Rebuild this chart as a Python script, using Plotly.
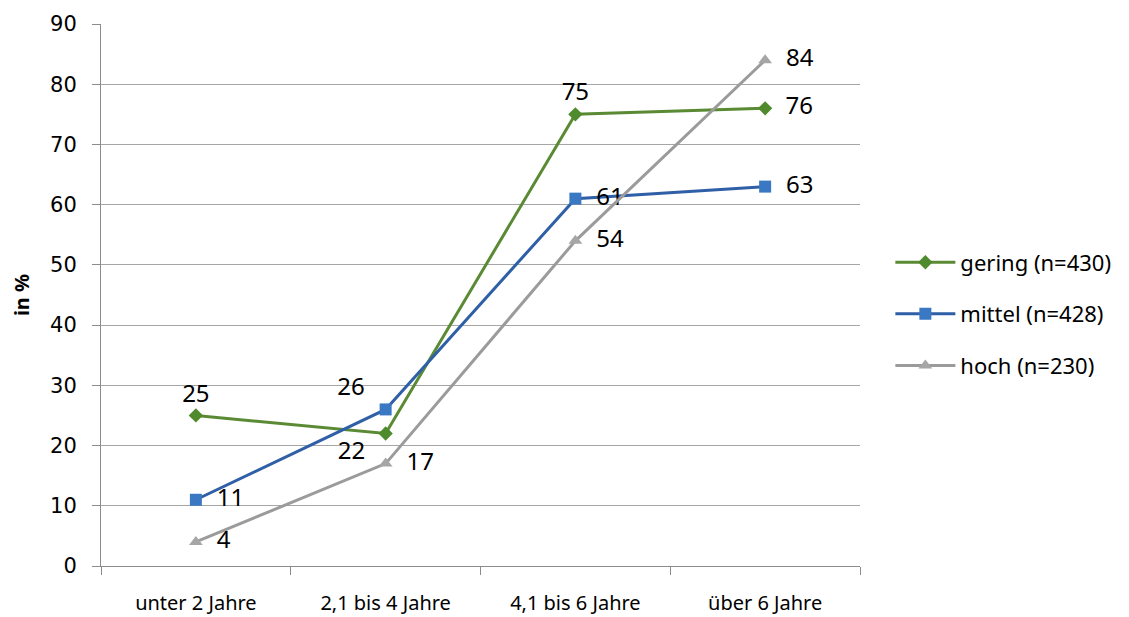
import plotly.graph_objects as go

categories = ["unter 2 Jahre", "2,1 bis 4 Jahre", "4,1 bis 6 Jahre", "über 6 Jahre"]
gering = [25, 22, 75, 76]
mittel = [11, 26, 61, 63]
hoch = [4, 17, 54, 84]
series_names = ["gering (n=430)", "mittel (n=428)", "hoch (n=230)"]
y_ticks = [0, 10, 20, 30, 40, 50, 60, 70, 80, 90]

FONT = "Noto Sans"

fig = go.Figure()

specs = [
    (gering, series_names[0], "#5a8a34", "#4f8a2c", "diamond", 11,
     ["top center", "bottom left", "top center", "middle right"]),
    (mittel, series_names[1], "#2f5fa6", "#3a78c4", "square", 12,
     ["middle right", "top left", "middle right", "middle right"]),
    (hoch, series_names[2], "#9b9b9b", "#a6a6a6", "triangle-up", 12,
     ["middle right", "middle right", "middle right", "middle right"]),
]

for i, (vals, name, lc, mc, sym, ms, pos) in enumerate(specs):
    fig.add_trace(go.Scatter(
        x=categories, y=vals, name=name, mode="lines+markers+text",
        line=dict(color=lc, width=3),
        marker=dict(symbol=sym, size=ms, color=mc),
        text=[f"  {v}  " for v in vals], textposition=pos,
        textfont=dict(family=FONT, size=24, color="#000000"),
        legendgroup=str(i),
        cliponaxis=False,
    ))

# the page body adds an 8px offset, so margins are shifted to compensate
fig.update_layout(
    width=1129, height=617,
    margin=dict(l=93, r=277, t=16, b=59, autoexpand=False),
    paper_bgcolor="white", plot_bgcolor="white",
    font=dict(family=FONT, size=20, color="#000000"),
    showlegend=True,
    legend=dict(x=1.04, y=0.465, xanchor="left", yanchor="middle",
                font=dict(family=FONT, size=22), tracegroupgap=20,
                itemwidth=60),
    xaxis=dict(
        type="category", showgrid=False, showline=True, linecolor="#8c8c8c",
        linewidth=1, ticks="outside", tickson="boundaries", ticklen=8,
        tickcolor="#8c8c8c", tickfont=dict(family=FONT, size=20),
        range=[-0.5, 3.5], automargin=False, ticklabelstandoff=19,
    ),
    yaxis=dict(
        range=[0, 90], tickvals=y_ticks, showgrid=True, gridcolor="#a6a6a6",
        gridwidth=1, showline=True, linecolor="#8c8c8c", linewidth=1,
        ticks="outside", ticklen=8, tickcolor="#8c8c8c",
        tickfont=dict(family="DejaVu Sans", size=21), zeroline=False,
        automargin=False, ticklabelstandoff=11,
        title=dict(text="<b>in %</b>", font=dict(family=FONT, size=20), standoff=16),
    ),
)

fig.write_html("out.html")
